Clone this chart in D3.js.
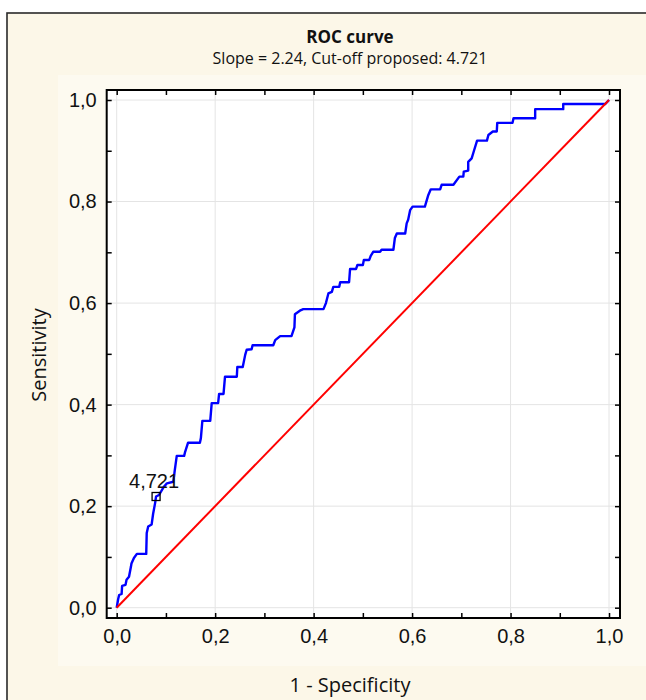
<!DOCTYPE html>
<html>
<head>
<meta charset="utf-8">
<script src="https://cdn.jsdelivr.net/npm/d3@7"></script>
<style>
  body { margin: 0; background: #fff; }
  svg { display: block; }
</style>
</head>
<body>
<div id="chart"></div>
<script>
"use strict";

// ROC curve: 1 - specificity (fpr) and sensitivity (tpr)
var fpr = [0, 0.003, 0.005, 0.010, 0.011, 0.018, 0.020, 0.025, 0.029, 0.030, 0.035, 0.041, 0.060, 0.061, 0.064, 0.071,
  0.074, 0.078, 0.080, 0.086, 0.095, 0.102, 0.115, 0.118, 0.122, 0.137, 0.139, 0.145, 0.169, 0.171, 0.174, 0.190,
  0.193, 0.206, 0.208, 0.217, 0.220, 0.244, 0.245, 0.256, 0.261, 0.264, 0.274, 0.276, 0.318, 0.322, 0.332, 0.355,
  0.361, 0.362, 0.372, 0.379, 0.420, 0.425, 0.430, 0.437, 0.440, 0.452, 0.454, 0.472, 0.474, 0.486, 0.489, 0.500,
  0.502, 0.513, 0.516, 0.521, 0.535, 0.538, 0.562, 0.565, 0.569, 0.586, 0.589, 0.592, 0.596, 0.601, 0.626, 0.633,
  0.638, 0.657, 0.660, 0.684, 0.696, 0.704, 0.705, 0.714, 0.714, 0.721, 0.726, 0.732, 0.752, 0.755, 0.764, 0.772,
  0.773, 0.804, 0.806, 0.850, 0.850, 0.907, 0.907, 0.992, 1];
var tpr = [0, 0.017, 0.025, 0.027, 0.043, 0.045, 0.055, 0.061, 0.081, 0.087, 0.098, 0.106, 0.106, 0.147, 0.160, 0.164,
  0.185, 0.206, 0.219, 0.222, 0.237, 0.245, 0.248, 0.271, 0.299, 0.299, 0.307, 0.325, 0.325, 0.334, 0.368, 0.368,
  0.403, 0.403, 0.421, 0.421, 0.455, 0.455, 0.474, 0.474, 0.498, 0.508, 0.509, 0.517, 0.517, 0.527, 0.535, 0.535,
  0.552, 0.578, 0.585, 0.588, 0.588, 0.600, 0.619, 0.622, 0.632, 0.632, 0.641, 0.641, 0.667, 0.667, 0.675, 0.675,
  0.685, 0.685, 0.693, 0.701, 0.701, 0.705, 0.705, 0.728, 0.737, 0.737, 0.757, 0.764, 0.783, 0.790, 0.790, 0.813,
  0.824, 0.824, 0.833, 0.833, 0.849, 0.849, 0.859, 0.861, 0.878, 0.885, 0.901, 0.920, 0.920, 0.931, 0.938, 0.938,
  0.955, 0.955, 0.964, 0.964, 0.982, 0.982, 0.992, 0.992, 1];

var cutoff = { x: 0.080, y: 0.219, label: "4,721" };
var majorTicks = [0, 0.2, 0.4, 0.6, 0.8, 1.0];
var minorTicks = [0.1, 0.3, 0.5, 0.7, 0.9];

var W = 646, H = 700;
var frame = { left: 106.7, right: 620, top: 90, bottom: 618 };
var numFont = "'Liberation Sans', Arial, sans-serif";
var textFont = "'Open Sans', 'Noto Sans', sans-serif";

var svg = d3.select("#chart").append("svg")
  .attr("width", W)
  .attr("height", H);

// backgrounds
svg.append("rect").attr("x", 0).attr("y", 0).attr("width", W).attr("height", H).attr("fill", "#ffffff");
svg.append("rect").attr("x", 7).attr("y", 13).attr("width", W + 20).attr("height", H + 20)
  .attr("fill", "#fcf7e8").attr("stroke", "#2a2a2a").attr("stroke-width", 1.6);
svg.append("rect").attr("x", 58).attr("y", 75).attr("width", W - 58 + 10).attr("height", 666 - 75)
  .attr("fill", "#fdfaf0");

var x = d3.scaleLinear().domain([-0.0203, 1.0223]).range([frame.left, frame.right]);
var y = d3.scaleLinear().domain([-0.0203, 1.0197]).range([frame.bottom, frame.top]);

// plot area
svg.append("rect")
  .attr("x", frame.left).attr("y", frame.top)
  .attr("width", frame.right - frame.left).attr("height", frame.bottom - frame.top)
  .attr("fill", "#ffffff");

// grid
var grid = svg.append("g").attr("class", "grid");
grid.selectAll(".gx").data(majorTicks).enter().append("line")
  .attr("x1", function(d) { return x(d); }).attr("x2", function(d) { return x(d); })
  .attr("y1", frame.top).attr("y2", frame.bottom)
  .attr("stroke", "#e4e4e4").attr("stroke-width", 1);
grid.selectAll(".gy").data(majorTicks).enter().append("line")
  .attr("y1", function(d) { return y(d); }).attr("y2", function(d) { return y(d); })
  .attr("x1", frame.left).attr("x2", frame.right)
  .attr("stroke", "#e4e4e4").attr("stroke-width", 1);

var fmt = function(d) { return d3.format(".1f")(d).replace(".", ","); };
var allTicks = majorTicks.concat(minorTicks);
var tickFmt = function(d) { return majorTicks.indexOf(d) >= 0 ? fmt(d) : ""; };

function styleAxis(g) {
  g.select(".domain").remove();
  g.selectAll(".tick line").attr("stroke", "#000").attr("stroke-width", 1.5);
  g.selectAll("text")
    .attr("font-family", numFont)
    .attr("font-size", 20)
    .attr("fill", "#111");
}

// bottom / left with labels, ticks pointing inwards
svg.append("g").attr("transform", "translate(0," + frame.bottom + ")")
  .call(d3.axisBottom(x).tickValues(allTicks).tickSize(-5).tickPadding(11).tickFormat(tickFmt))
  .call(styleAxis);
svg.append("g").attr("transform", "translate(" + frame.left + ",0)")
  .call(d3.axisLeft(y).tickValues(allTicks).tickSize(-5).tickPadding(10).tickFormat(tickFmt))
  .call(styleAxis);
// top / right ticks only
svg.append("g").attr("transform", "translate(0," + frame.top + ")")
  .call(d3.axisTop(x).tickValues(allTicks).tickSize(-5).tickFormat(""))
  .call(styleAxis);
svg.append("g").attr("transform", "translate(" + frame.right + ",0)")
  .call(d3.axisRight(y).tickValues(allTicks).tickSize(-5).tickFormat(""))
  .call(styleAxis);

// ROC curve
var pts = fpr.map(function(d, i) { return [d, tpr[i]]; });
var line = d3.line().x(function(d) { return x(d[0]); }).y(function(d) { return y(d[1]); });
svg.append("path")
  .datum(pts)
  .attr("d", line)
  .attr("fill", "none")
  .attr("stroke", "#0000ff")
  .attr("stroke-width", 2.4)
  .attr("stroke-linejoin", "round");

// reference diagonal
svg.append("path")
  .datum([[0, 0], [1, 1]])
  .attr("d", line)
  .attr("fill", "none")
  .attr("stroke", "#ff0000")
  .attr("stroke-width", 2);

// cut-off marker
svg.append("rect")
  .attr("x", x(cutoff.x) - 4).attr("y", y(cutoff.y) - 4)
  .attr("width", 8).attr("height", 8)
  .attr("fill", "none").attr("stroke", "#000").attr("stroke-width", 1.3);
svg.append("text")
  .attr("x", x(cutoff.x) - 2).attr("y", y(cutoff.y) - 9)
  .attr("text-anchor", "middle")
  .attr("font-family", numFont)
  .attr("font-size", 20)
  .attr("fill", "#111")
  .text(cutoff.label);

// frame
svg.append("rect")
  .attr("x", frame.left).attr("y", frame.top)
  .attr("width", frame.right - frame.left).attr("height", frame.bottom - frame.top)
  .attr("fill", "none").attr("stroke", "#000").attr("stroke-width", 2);

// titles
var cx = 350;
svg.append("text").attr("x", cx).attr("y", 43).attr("text-anchor", "middle")
  .attr("font-family", textFont).attr("font-weight", "bold")
  .attr("font-size", 17).attr("fill", "#111").text("ROC curve");
svg.append("text").attr("x", cx).attr("y", 64).attr("text-anchor", "middle")
  .attr("font-family", textFont)
  .attr("font-size", 16).attr("fill", "#111").text("Slope = 2.24, Cut-off proposed: 4.721");
svg.append("text").attr("x", cx).attr("y", 692).attr("text-anchor", "middle")
  .attr("font-family", textFont)
  .attr("font-size", 20).attr("fill", "#111").text("1 - Specificity");
svg.append("text")
  .attr("transform", "translate(46," + 355 + ") rotate(-90)")
  .attr("text-anchor", "middle")
  .attr("font-family", textFont)
  .attr("font-size", 20).attr("fill", "#111").text("Sensitivity");
</script>
</body>
</html>
